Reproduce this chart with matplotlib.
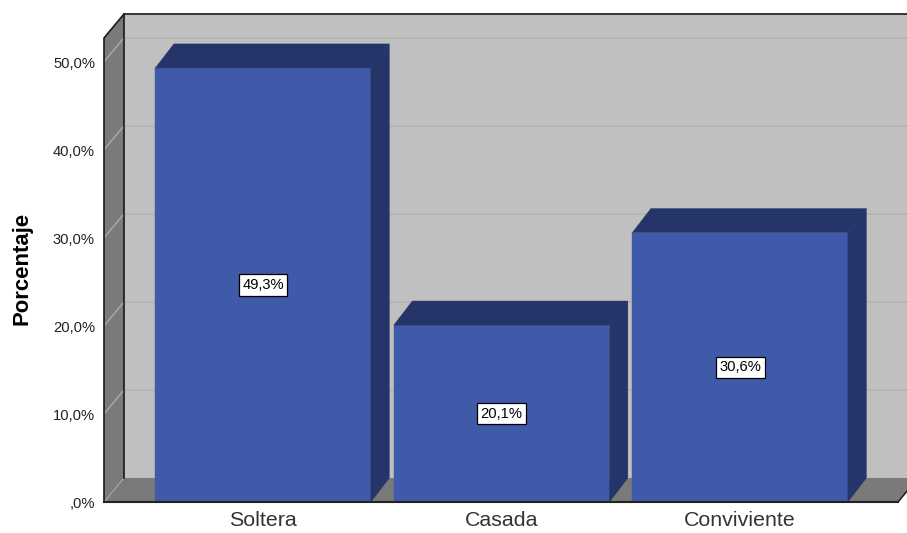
import matplotlib
matplotlib.use("Agg")
import matplotlib.pyplot as plt
from matplotlib.patches import Polygon
from matplotlib.transforms import ScaledTranslation

plt.rcParams['font.family'] = ['Liberation Sans', 'DejaVu Sans']

categories = ['Soltera', 'Casada', 'Conviviente']
values = [49.3, 20.1, 30.6]
value_labels = ['49,3%', '20,1%', '30,6%']
y_ticks = [0, 10, 20, 30, 40, 50]
y_tick_labels = [',0%', '10,0%', '20,0%', '30,0%', '40,0%', '50,0%']
y_label = 'Porcentaje'

W, H = 907, 533
fig = plt.figure(figsize=(W / 100, H / 100), dpi=100, facecolor='white')
L, R, T, B = 104, 898, 38, 502
ax = fig.add_axes([L / W, 1 - B / H, (R - L) / W, (B - T) / H])
ax.set_xlim(-0.667, 2.662)
ax.set_ylim(0, 52.7)
for s in ax.spines.values():
    s.set_visible(False)
ax.patch.set_visible(False)

# 3-D depth offset, in data units
DX = 20 / 238.5
BAR_DX = 18.5 / 238.5
DY = 24 / 8.8
X0, X1 = ax.get_xlim()
Y0, Y1 = ax.get_ylim()

WALL = '#C0C0C0'
SIDE = '#7A7A7A'
GRID = '#B4B4B4'
GRID_SIDE = '#ABABAB'
FRONT = '#3F5AA8'
DARK = '#25356A'
LINE = '#1A1A1A'


def poly(pts, fc, ec='none', lw=0, z=1):
    ax.add_patch(Polygon(pts, closed=True, facecolor=fc, edgecolor=ec,
                         linewidth=lw, zorder=z, clip_on=False))


def line(xs, ys, c=LINE, lw=1.1, z=2):
    ax.plot(xs, ys, color=c, lw=lw, zorder=z, clip_on=False,
            solid_capstyle='projecting')


# walls and floor
poly([(X0 + DX, Y0 + DY), (X1 + DX, Y0 + DY), (X1 + DX, Y1 + DY), (X0 + DX, Y1 + DY)], WALL)
poly([(X0, Y0), (X0 + DX, Y0 + DY), (X0 + DX, Y1 + DY), (X0, Y1)], SIDE)
poly([(X0, Y0), (X1, Y0), (X1 + DX, Y0 + DY), (X0 + DX, Y0 + DY)], SIDE)

# gridlines
for t in y_ticks[1:]:
    line([X0 + DX, X1 + DX], [t + DY, t + DY], GRID, 1.4)
    line([X0, X0 + DX], [t, t + DY], GRID_SIDE, 1.0)
line([X0, X0 + DX], [0, DY], GRID_SIDE, 0.7)
line([X1, X1 + DX], [0, DY], LINE, 1.1)

# frame
line([X0, X0, X0 + DX, X1 + DX], [Y0, Y1, Y1 + DY, Y1 + DY], LINE, 1.2)
line([X0 + DX, X0 + DX], [Y0 + DY, Y1 + DY], LINE, 1.2)

# bars
bar_w = 215.5 / 238.5
for i, v in enumerate(values):
    a, b = i - bar_w / 2, i + bar_w / 2
    ax.bar(i, v, width=bar_w, color=FRONT, edgecolor=FRONT, linewidth=0.3, zorder=3)
    poly([(a, v), (b, v), (b + BAR_DX, v + DY), (a + BAR_DX, v + DY)], DARK, DARK, 0.3, 3)
    poly([(b, 0), (b + BAR_DX, DY), (b + BAR_DX, v + DY), (b, v)], DARK, DARK, 0.3, 3)
    ax.text(i, v / 2, value_labels[i], ha='center', va='center', fontsize=10.6,
            color='black', zorder=5,
            bbox=dict(boxstyle='square,pad=0.24', fc='white', ec='black', lw=0.9))

# base line above the bars
line([X0, X1], [0, 0], '#222222', 1.5, 4)

# axes text
ax.set_xticks(range(len(categories)), categories)
ax.set_yticks(y_ticks, y_tick_labels)
ax.tick_params(axis='x', length=0, pad=6.8, labelsize=15.4, labelcolor='#333333')
ax.tick_params(axis='y', length=0, pad=6.5, labelsize=10.6, labelcolor='#222222')
shift = ScaledTranslation(0, -1 / 100, fig.dpi_scale_trans)
for lab in ax.get_yticklabels():
    lab.set_transform(lab.get_transform() + shift)
fig.text(22 / W, 1 - 268.5 / H, y_label, rotation=90, ha='center', va='center',
         fontsize=15.9, fontweight='bold', color='black')

fig.savefig('out.png', dpi=100)
